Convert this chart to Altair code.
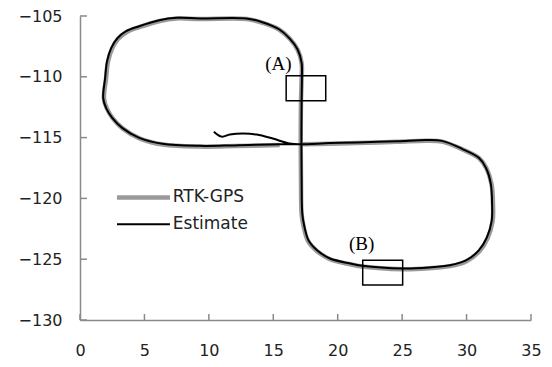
import altair as alt
import pandas as pd

# ---- data ----
rtk_x = [17.13, 19.4, 21.5, 24.6, 26.9, 28.1, 29.7, 31.0, 31.55, 31.94, 32.05, 32.02, 31.63, 31.0, 30.0,
         28.7, 27.1, 25.0, 21.9, 20.9, 19.4, 18.4, 17.7, 17.35, 17.2, 17.15, 17.13, 17.15, 17.2, 17.2,
         16.9, 16.3, 15.5, 14.2, 12.95, 9.3, 7.5, 6.2, 4.65, 3.64, 2.95, 2.48, 2.17, 2.02, 1.86,
         2.09, 2.56, 3.33, 4.65, 6.43, 9.3, 12.0, 15.5]
rtk_y = [-115.55, -115.5, -115.45, -115.35, -115.25, -115.33, -115.98, -116.72, -117.54, -118.85, -120.5,
         -121.9, -123.28, -124.34, -125.16, -125.57, -125.74, -125.82, -125.6, -125.4, -125.0, -124.34,
         -123.52, -122.3, -121.3, -118.6, -115.55, -112.0, -110.16, -108.9, -107.8, -106.9, -106.15,
         -105.57, -105.25, -105.25, -105.2, -105.41, -105.9, -106.31, -106.89, -107.7, -108.77, -110.16,
         -111.8, -112.62, -113.44, -114.26, -115.08, -115.57, -115.74, -115.7, -115.6]

est_x = [10.39, 11.0, 11.63, 12.64, 13.72, 14.96, 16.28, 17.05, 19.4, 21.5, 24.6, 26.9, 28.1, 29.65, 30.95,
         31.5, 31.88, 31.98, 31.95, 31.57, 30.95, 29.95, 28.7, 27.1, 25.0, 21.9, 20.9, 19.4, 18.42, 17.74,
         17.4, 17.25, 17.2, 17.18, 17.2, 17.22, 17.2, 16.88, 16.26, 15.45, 14.15, 12.9, 9.3, 7.5, 6.15,
         4.6, 3.58, 2.9, 2.42, 2.1, 1.95, 1.8, 2.02, 2.5, 3.27, 4.6, 6.4, 9.3, 12.0, 15.5, 17.1]
est_y = [-114.51, -114.92, -114.75, -114.67, -114.75, -115.08, -115.49, -115.55, -115.45, -115.4, -115.3,
         -115.2, -115.27, -115.92, -116.66, -117.48, -118.8, -120.45, -121.85, -123.22, -124.28, -125.1,
         -125.5, -125.68, -125.76, -125.54, -125.34, -124.94, -124.28, -123.46, -122.25, -121.25, -118.55,
         -115.55, -112.0, -110.16, -108.85, -107.74, -106.84, -106.09, -105.51, -105.2, -105.2, -105.15,
         -105.35, -105.84, -106.25, -106.83, -107.64, -108.72, -110.1, -111.75, -112.56, -113.38, -114.2,
         -115.02, -115.51, -115.68, -115.64, -115.55, -115.55]

x_ticks = [0, 5, 10, 15, 20, 25, 30, 35]
y_ticks = [-130, -125, -120, -115, -110, -105]

legend_labels = ["RTK-GPS", "Estimate"]

box_labels = ["(A)", "(B)"]
box_x1 = [16.0, 21.94]
box_x2 = [19.07, 25.04]
box_y1 = [-109.92, -125.08]
box_y2 = [-111.97, -127.13]
box_label_x = [15.4, 21.86]
box_label_y = [-108.95, -123.75]

# ---- tables ----
rtk_df = pd.DataFrame({"x": rtk_x, "y": rtk_y, "i": list(range(len(rtk_x)))})
est_df = pd.DataFrame({"x": est_x, "y": est_y, "i": list(range(len(est_x)))})
box_df = pd.DataFrame({"label": box_labels, "x1": box_x1, "x2": box_x2, "y1": box_y1, "y2": box_y2,
                       "lx": box_label_x, "ly": box_label_y})
xt_df = pd.DataFrame({"v": x_ticks})
yt_df = pd.DataFrame({"v": y_ticks})
leg_df = pd.DataFrame({"label": legend_labels, "row": [0, 1]})

W, H = 451, 304
AX = "#8a8a8a"
TXT = "#222222"

xscale = alt.Scale(domain=[0, 35], nice=False, zero=False)
yscale = alt.Scale(domain=[-130, -105], nice=False, zero=False)
xax = alt.Axis(values=x_ticks, ticks=False, grid=False, title=None, labelFont="DejaVu Sans",
               labelFontSize=16, labelColor=TXT, labelPadding=22, domainColor=AX, domainWidth=1.5,
               labelFlush=False, labelOverlap=False)
yax = alt.Axis(values=y_ticks, ticks=False, grid=False, title=None, labelFont="DejaVu Sans",
               labelFontSize=16, labelColor=TXT, labelPadding=18, domainColor=AX, domainWidth=1.5,
               labelFlush=False, labelOverlap=False)

X = lambda f: alt.X(f, scale=xscale, axis=xax)
Y = lambda f: alt.Y(f, scale=yscale, axis=yax)

rtk_line = alt.Chart(rtk_df).mark_line(color="#9a9a9a", strokeWidth=4.5, interpolate="catmull-rom").encode(
    x=X("x:Q"), y=Y("y:Q"), order="i:Q")
est_line = alt.Chart(est_df).mark_line(color="#000000", strokeWidth=2, interpolate="catmull-rom").encode(
    x=X("x:Q"), y=Y("y:Q"), order="i:Q")

boxes = alt.Chart(box_df).mark_rect(fill=None, stroke="#000000", strokeWidth=1.5).encode(
    x=X("x1:Q"), x2="x2:Q", y=Y("y1:Q"), y2="y2:Q")
box_text = alt.Chart(box_df).mark_text(font="Liberation Serif", fontSize=19, color="#000000",
                                       baseline="middle", align="center").encode(
    x=X("lx:Q"), y=Y("ly:Q"), text="label:N")

xticks = alt.Chart(xt_df).mark_rule(color=AX, strokeWidth=1.5).encode(
    x=X("v:Q"), y=alt.value(H), y2=alt.value(H - 6))
yticks = alt.Chart(yt_df).mark_rule(color=AX, strokeWidth=1.5).encode(
    y=Y("v:Q"), x=alt.value(0), x2=alt.value(7))

leg_base = alt.Chart(leg_df).transform_calculate(
    ly="-119.92 - 2.2 * datum.row", lx1="2.87", lx2="6.98", tx="7.2")
leg_rtk = leg_base.transform_filter("datum.row == 0").mark_rule(color="#9a9a9a", strokeWidth=4.5).encode(
    x=X("lx1:Q"), x2="lx2:Q", y=Y("ly:Q"))
leg_est = leg_base.transform_filter("datum.row == 1").mark_rule(color="#000000", strokeWidth=2).encode(
    x=X("lx1:Q"), x2="lx2:Q", y=Y("ly:Q"))
leg_txt = leg_base.mark_text(font="DejaVu Sans", fontSize=17, color=TXT, align="left", baseline="middle").encode(
    x=X("tx:Q"), y=Y("ly:Q"), text="label:N")

chart = alt.layer(rtk_line, est_line, boxes, box_text, xticks, yticks, leg_rtk, leg_est, leg_txt).properties(
    width=W, height=H,
    autosize=alt.AutoSizeParams(type="none"),
    padding={"left": 72, "top": 8, "right": 13, "bottom": 39},
).configure_view(stroke=None)

chart.save("out.html", embed_options={"renderer": "svg", "actions": False})
